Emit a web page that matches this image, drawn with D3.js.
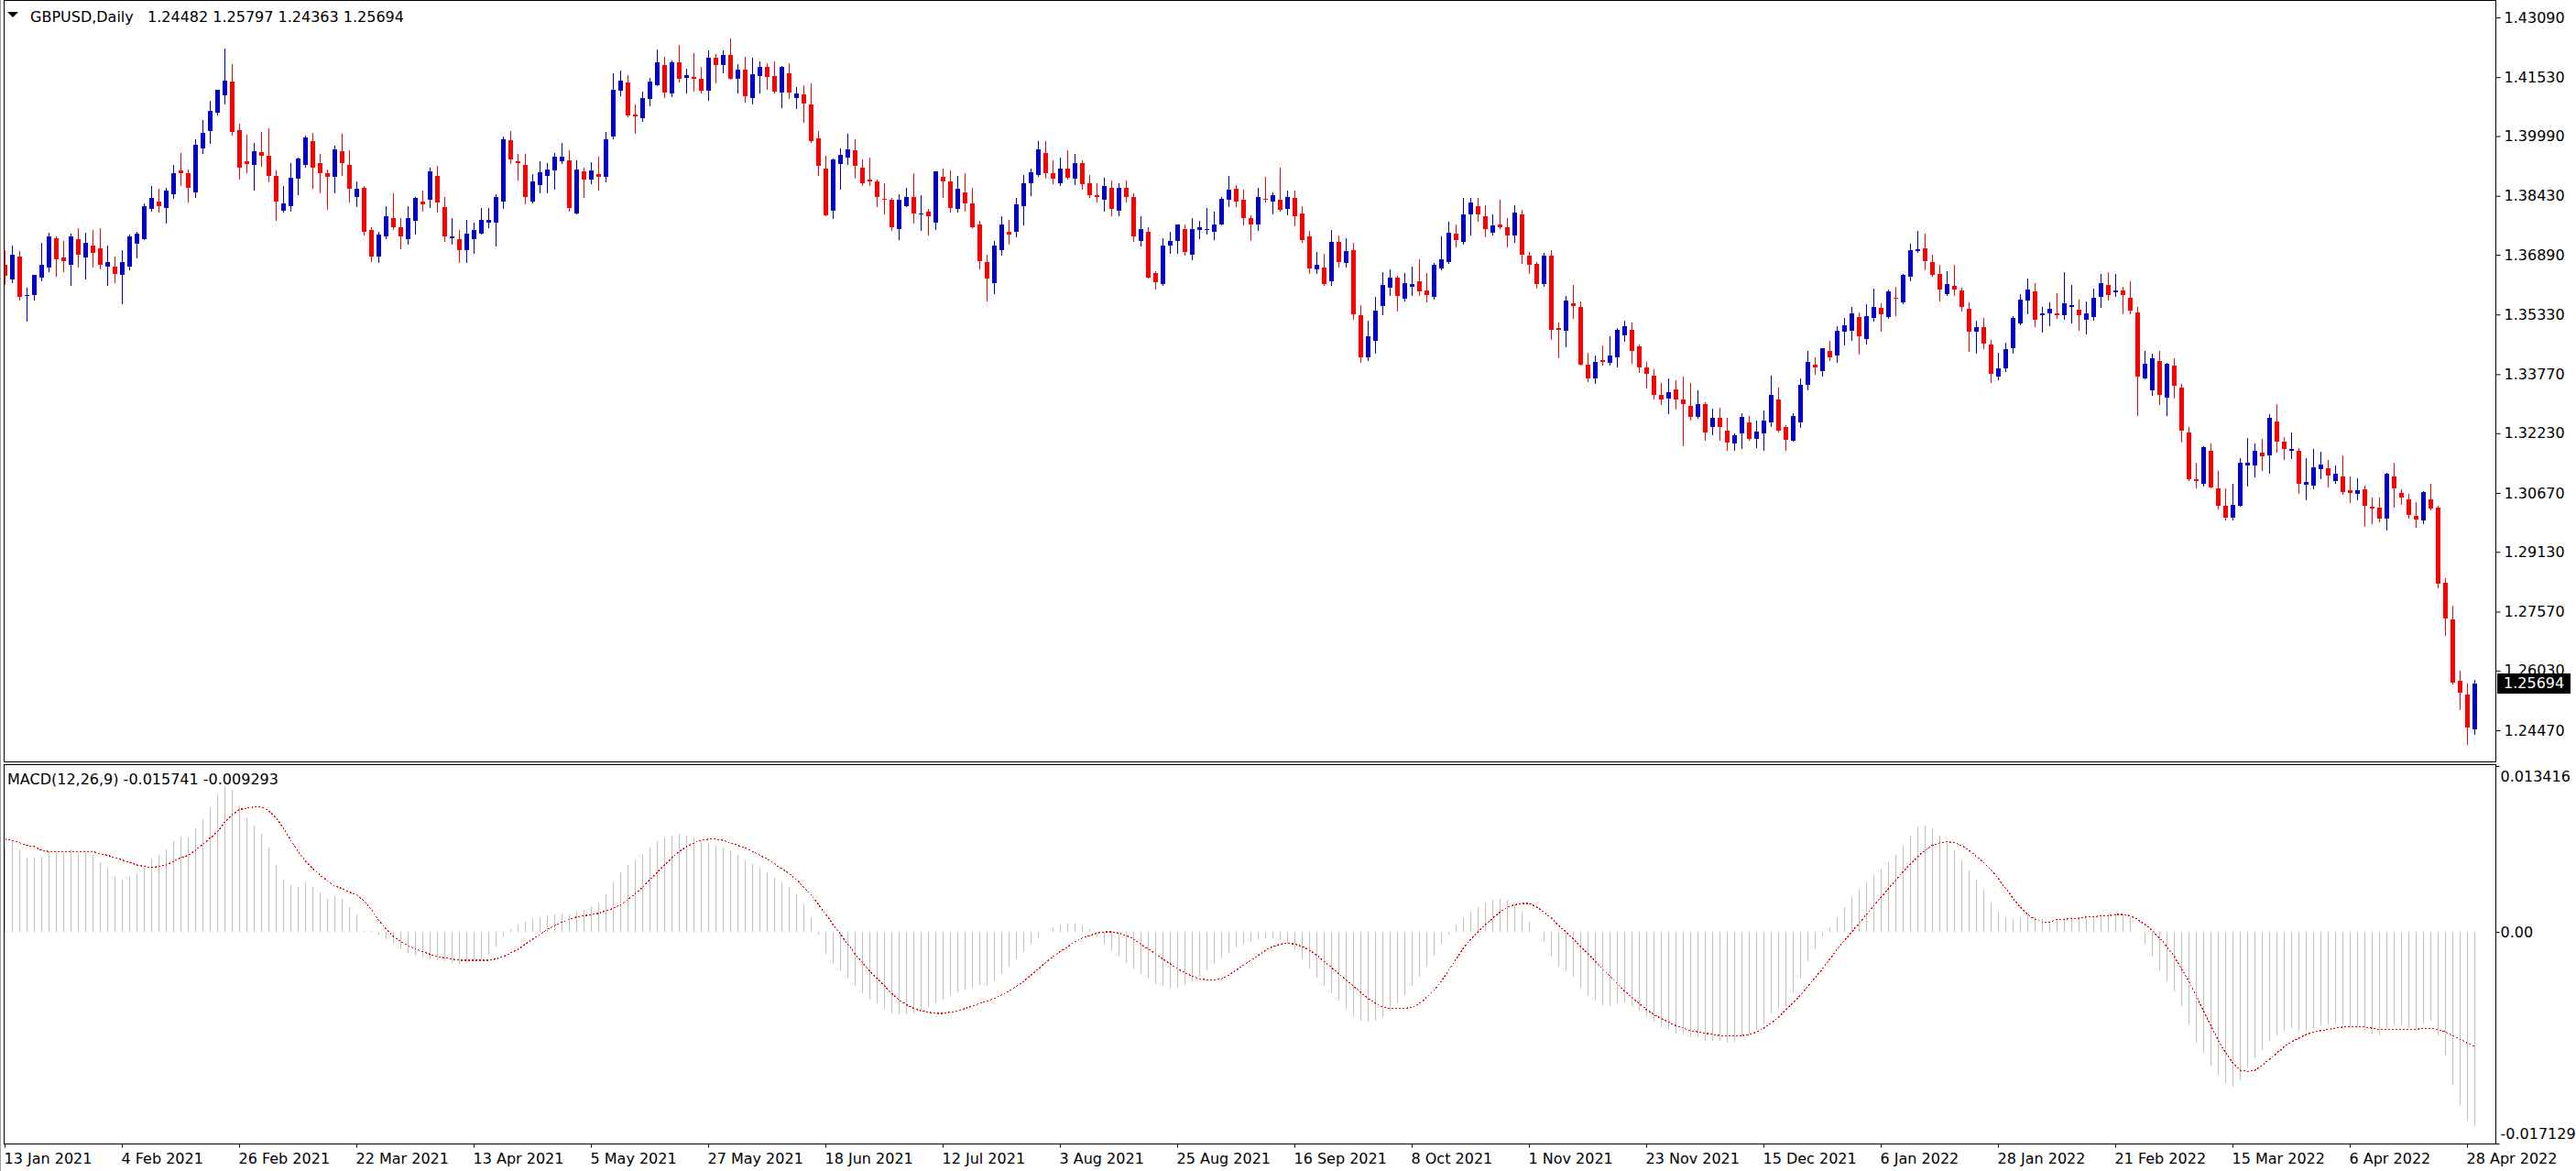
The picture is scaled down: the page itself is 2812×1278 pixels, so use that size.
<!DOCTYPE html>
<html>
<head>
<meta charset="utf-8">
<script src="https://cdn.jsdelivr.net/npm/d3@7"></script>
<style>
body { margin: 0; background: #fff; }
svg text { font-family: "DejaVu Sans", sans-serif; font-size: 16px; fill: #000; }
</style>
</head>
<body>
<svg width="2812" height="1278"></svg>
<script>
// GBPUSD daily, 13 Jan 2021 .. 29 Apr 2022 (one bar per weekday)
const opens = [
1.3662,1.3625,1.3685,1.3582,1.3583,1.3629,1.3655,1.3733,1.3683,1.3662,
1.3731,1.3681,1.3714,1.3705,1.3659,1.3657,1.3637,1.3657,1.3717,1.3731,
1.3808,1.3829,1.3810,1.3846,1.3909,1.3901,1.3851,1.3966,1.4012,1.4060,
1.4105,1.4141,1.4014,1.3933,1.3923,1.3957,1.3947,1.3894,1.3805,1.3815,
1.3887,1.3923,1.3985,1.3928,1.3901,1.3892,1.3959,1.3923,1.3841,1.3863,
1.3753,1.3685,1.3736,1.3786,1.3760,1.3731,1.3777,1.3829,1.3832,1.3894,
1.3813,1.3733,1.3731,1.3700,1.3731,1.3743,1.3774,1.3772,1.3827,1.3988,
1.3933,1.3923,1.3829,1.3870,1.3894,1.3909,1.3933,1.3935,1.3798,1.3906,
1.3885,1.3899,1.3892,1.3997,1.4117,1.4139,1.4055,1.4045,1.4096,1.4132,
1.4185,1.4110,1.4192,1.4151,1.4153,1.4149,1.4117,1.4204,1.4185,1.4211,
1.4149,1.4173,1.4098,1.4156,1.4180,1.4156,1.4113,1.4163,1.4098,1.4108,
1.4081,1.3993,1.3913,1.3805,1.3925,1.3942,1.3961,1.3916,1.3885,1.3880,
1.3834,1.3832,1.3755,1.3817,1.3839,1.3796,1.3801,1.3772,1.3892,1.3880,
1.3808,1.3853,1.3822,1.3767,1.3671,1.3616,1.3702,1.3750,1.3748,1.3817,
1.3877,1.3897,1.3954,1.3901,1.3875,1.3913,1.3887,1.3928,1.3875,1.3844,
1.3832,1.3865,1.3803,1.3863,1.3839,1.3724,1.3750,1.3642,1.3613,1.3714,
1.3726,1.3757,1.3690,1.3753,1.3753,1.3748,1.3769,1.3832,1.3861,1.3832,
1.3784,1.3769,1.3834,1.3829,1.3833,1.3809,1.3838,1.3797,1.3737,1.3650,
1.3655,1.3619,1.3722,1.3667,1.3701,1.3530,1.3420,1.3463,1.3554,1.3602,
1.3629,1.3574,1.3605,1.3619,1.3595,1.3578,1.3653,1.3670,1.3744,1.3722,
1.3794,1.3816,1.3790,1.3746,1.3768,1.3761,1.3739,1.3794,1.3686,1.3665,
1.3612,1.3686,1.3497,1.3490,1.3562,1.3552,1.3401,1.3365,1.3413,1.3406,
1.3420,1.3478,1.3494,1.3449,1.3394,1.3374,1.3324,1.3314,1.3338,1.3310,
1.3295,1.3266,1.3300,1.3238,1.3264,1.3230,1.3197,1.3223,1.3250,1.3209,
1.3223,1.3250,1.3310,1.3238,1.3204,1.3252,1.3350,1.3403,1.3386,1.3437,
1.3427,1.3487,1.3490,1.3526,1.3468,1.3523,1.3550,1.3526,1.3576,1.3564,
1.3631,1.3698,1.3707,1.3669,1.3639,1.3586,1.3607,1.3596,1.3548,1.3487,
1.3500,1.3455,1.3370,1.3393,1.3444,1.3509,1.3570,1.3593,1.3532,1.3535,
1.3536,1.3532,1.3552,1.3545,1.3520,1.3527,1.3578,1.3610,1.3590,1.3596,
1.3577,1.3538,1.3367,1.3334,1.3412,1.3315,1.3400,1.3342,1.3226,1.3103,
1.3091,1.3178,1.3080,1.3034,1.3002,1.3034,1.3139,1.3139,1.3171,1.3164,
1.3254,1.3202,1.3177,1.3178,1.3088,1.3086,1.3129,1.3132,1.3098,1.3109,
1.3073,1.3064,1.3076,1.3030,1.3028,1.3000,1.3109,1.3066,1.3051,1.3007,
1.2995,1.3051,1.3028,1.2832,1.2736,1.2576,1.2540,1.24482];

const highs = [
1.3701,1.3712,1.3699,1.3603,1.3637,1.3721,1.3747,1.3737,1.3725,1.3745,
1.3759,1.3747,1.3753,1.3759,1.3712,1.3685,1.3700,1.3741,1.3750,1.3822,
1.3868,1.3861,1.3865,1.3923,1.3954,1.3911,1.3990,1.4041,1.4091,1.4120,
1.4228,1.4187,1.4031,1.4002,1.3981,1.4009,1.4019,1.3909,1.3868,1.3928,
1.3942,1.4000,1.4007,1.3952,1.3911,1.3973,1.4005,1.3961,1.3880,1.3868,
1.3760,1.3748,1.3815,1.3849,1.3786,1.3815,1.3839,1.3856,1.3916,1.3921,
1.3841,1.3784,1.3753,1.3779,1.3772,1.3810,1.3810,1.3846,1.3997,1.4012,
1.3952,1.3952,1.3899,1.3933,1.3928,1.3954,1.3981,1.3961,1.3935,1.3916,
1.3930,1.3945,1.4009,1.4163,1.4170,1.4158,1.4081,1.4115,1.4151,1.4225,
1.4206,1.4197,1.4237,1.4175,1.4216,1.4180,1.4223,1.4213,1.4223,1.4254,
1.4187,1.4206,1.4204,1.4194,1.4189,1.4194,1.4182,1.4189,1.4127,1.4132,
1.4137,1.4012,1.3947,1.3940,1.3966,1.4005,1.3990,1.3937,1.3942,1.3885,
1.3875,1.3837,1.3846,1.3865,1.3901,1.3844,1.3808,1.3906,1.3913,1.3909,
1.3894,1.3901,1.3865,1.3777,1.3690,1.3724,1.3789,1.3781,1.3837,1.3897,
1.3913,1.3985,1.3985,1.3935,1.3942,1.3961,1.3952,1.3935,1.3897,1.3875,
1.3889,1.3882,1.3877,1.3882,1.3849,1.3789,1.3760,1.3647,1.3733,1.3750,
1.3769,1.3769,1.3784,1.3777,1.3810,1.3801,1.3841,1.3894,1.3870,1.3858,
1.3793,1.3865,1.3892,1.3853,1.3916,1.3857,1.3857,1.3816,1.3751,1.3696,
1.3691,1.3754,1.3739,1.3732,1.3720,1.3557,1.3518,1.3578,1.3643,1.3650,
1.3634,1.3641,1.3658,1.3677,1.3641,1.3667,1.3737,1.3775,1.3768,1.3838,
1.3838,1.3838,1.3818,1.3794,1.3833,1.3785,1.3818,1.3806,1.3696,1.3670,
1.3694,1.3701,1.3511,1.3581,1.3610,1.3566,1.3434,1.3427,1.3451,1.3475,
1.3497,1.3516,1.3511,1.3454,1.3410,1.3391,1.3355,1.3367,1.3362,1.3372,
1.3353,1.3334,1.3305,1.3286,1.3290,1.3262,1.3223,1.3276,1.3269,1.3257,
1.3283,1.3374,1.3341,1.3245,1.3274,1.3365,1.3439,1.3420,1.3446,1.3463,
1.3502,1.3523,1.3552,1.3538,1.3559,1.3600,1.3562,1.3598,1.3605,1.3638,
1.3718,1.3751,1.3743,1.3689,1.3662,1.3647,1.3662,1.3603,1.3564,1.3518,
1.3524,1.3467,1.3433,1.3460,1.3529,1.3587,1.3627,1.3614,1.3552,1.3564,
1.3588,1.3643,1.3610,1.3571,1.3568,1.3600,1.3639,1.3643,1.3639,1.3605,
1.3619,1.3552,1.3438,1.3431,1.3438,1.3407,1.3418,1.3351,1.3240,1.3145,
1.3190,1.3195,1.3125,1.3080,1.3090,1.3157,1.3211,1.3197,1.3209,1.3273,
1.3299,1.3214,1.3226,1.3184,1.3159,1.3182,1.3175,1.3152,1.3138,1.3166,
1.3109,1.3106,1.3087,1.3056,1.3054,1.3119,1.3147,1.3076,1.3064,1.3042,
1.3071,1.3090,1.3034,1.2844,1.2772,1.2602,1.2569,1.25797];

const lows = [
1.3613,1.3617,1.3571,1.3518,1.3571,1.3621,1.3645,1.3635,1.3647,1.3609,
1.3659,1.3628,1.3657,1.3654,1.3611,1.3618,1.3563,1.3652,1.3681,1.3729,
1.3803,1.3801,1.3774,1.3837,1.3870,1.3829,1.3839,1.3954,1.3981,1.4055,
1.4084,1.4002,1.3887,1.3904,1.3858,1.3921,1.3880,1.3779,1.3801,1.3803,
1.3846,1.3918,1.3863,1.3853,1.3808,1.3851,1.3897,1.3829,1.3817,1.3741,
1.3673,1.3669,1.3733,1.3755,1.3705,1.3717,1.3745,1.3803,1.3813,1.3801,
1.3724,1.3719,1.3669,1.3669,1.3693,1.3743,1.3760,1.3714,1.3810,1.3928,
1.3885,1.3822,1.3825,1.3851,1.3853,1.3861,1.3928,1.3803,1.3798,1.3839,
1.3877,1.3858,1.3880,1.3993,1.4105,1.4050,1.4007,1.4038,1.4079,1.4132,
1.4101,1.4103,1.4141,1.4113,1.4117,1.4113,1.4093,1.4139,1.4165,1.4149,
1.4113,1.4089,1.4084,1.4113,1.4122,1.4113,1.4074,1.4098,1.4072,1.4036,
1.3983,1.3897,1.3791,1.3786,1.3861,1.3925,1.3889,1.3870,1.3870,1.3815,
1.3798,1.3753,1.3729,1.3815,1.3772,1.3753,1.3741,1.3755,1.3839,1.3801,
1.3801,1.3805,1.3760,1.3654,1.3570,1.3589,1.3690,1.3719,1.3736,1.3767,
1.3844,1.3894,1.3889,1.3875,1.3870,1.3887,1.3873,1.3861,1.3841,1.3827,
1.3803,1.3793,1.3791,1.3827,1.3726,1.3714,1.3630,1.3601,1.3609,1.3693,
1.3695,1.3688,1.3678,1.3733,1.3743,1.3731,1.3767,1.3817,1.3817,1.3767,
1.3727,1.3753,1.3827,1.3796,1.3804,1.3794,1.3766,1.3722,1.3641,1.3641,
1.3610,1.3610,1.3658,1.3658,1.3521,1.3410,1.3415,1.3432,1.3533,1.3583,
1.3542,1.3569,1.3583,1.3583,1.3566,1.3574,1.3650,1.3667,1.3710,1.3718,
1.3742,1.3778,1.3737,1.3742,1.3758,1.3710,1.3722,1.3667,1.3641,1.3602,
1.3607,1.3470,1.3422,1.3449,1.3523,1.3401,1.3358,1.3353,1.3401,1.3403,
1.3396,1.3463,1.3406,1.3382,1.3341,1.3314,1.3300,1.3276,1.3286,1.3192,
1.3259,1.3264,1.3206,1.3221,1.3206,1.3180,1.3180,1.3185,1.3206,1.3187,
1.3180,1.3242,1.3228,1.3180,1.3204,1.3238,1.3338,1.3377,1.3374,1.3413,
1.3408,1.3454,1.3466,1.3430,1.3458,1.3518,1.3490,1.3523,1.3530,1.3562,
1.3622,1.3696,1.3650,1.3634,1.3570,1.3583,1.3584,1.3544,1.3438,1.3433,
1.3444,1.3356,1.3363,1.3384,1.3432,1.3508,1.3536,1.3502,1.3489,1.3505,
1.3525,1.3522,1.3512,1.3493,1.3483,1.3520,1.3553,1.3572,1.3581,1.3536,
1.3535,1.3271,1.3365,1.3324,1.3300,1.3270,1.3315,1.3201,1.3100,1.3081,
1.3086,1.3081,1.3025,1.2998,1.2998,1.3033,1.3086,1.3110,1.3126,1.3119,
1.3174,1.3155,1.3157,1.3067,1.3050,1.3078,1.3105,1.3084,1.3092,1.3065,
1.3042,1.3050,1.2980,1.2988,1.2993,1.2972,1.3031,1.3038,1.3002,1.2979,
1.2987,1.3023,1.2821,1.2697,1.2569,1.2501,1.2410,1.24363];

const closes = [
1.3635,1.3688,1.3578,1.3585,1.3637,1.3662,1.3736,1.3678,1.3673,1.3738,
1.3688,1.3721,1.3693,1.3662,1.3669,1.3640,1.3671,1.3736,1.3743,1.3815,
1.3837,1.3815,1.3856,1.3901,1.3901,1.3865,1.3976,1.4007,1.4065,1.4120,
1.4144,1.4009,1.3916,1.3925,1.3959,1.3947,1.3894,1.3829,1.3822,1.3889,
1.3940,1.3995,1.3916,1.3901,1.3892,1.3964,1.3928,1.3861,1.3861,1.3750,
1.3685,1.3741,1.3789,1.3760,1.3738,1.3786,1.3837,1.3820,1.3906,1.3825,
1.3738,1.3736,1.3702,1.3745,1.3753,1.3779,1.3781,1.3839,1.3990,1.3937,
1.3928,1.3839,1.3880,1.3904,1.3911,1.3945,1.3945,1.3810,1.3911,1.3885,
1.3909,1.3892,1.3990,1.4120,1.4144,1.4053,1.4050,1.4098,1.4141,1.4192,
1.4113,1.4192,1.4149,1.4158,1.4149,1.4117,1.4204,1.4185,1.4211,1.4149,
1.4173,1.4103,1.4161,1.4180,1.4153,1.4115,1.4180,1.4113,1.4110,1.4084,
1.3985,1.3921,1.3793,1.3937,1.3949,1.3964,1.3921,1.3875,1.3880,1.3841,
1.3832,1.3762,1.3832,1.3841,1.3796,1.3798,1.3789,1.3906,1.3880,1.3810,
1.3861,1.3822,1.3762,1.3673,1.3628,1.3714,1.3769,1.3741,1.3820,1.3877,
1.3904,1.3964,1.3901,1.3887,1.3913,1.3889,1.3928,1.3873,1.3844,1.3839,
1.3868,1.3808,1.3865,1.3841,1.3736,1.3755,1.3630,1.3618,1.3714,1.3726,
1.3767,1.3697,1.3757,1.3760,1.3757,1.3769,1.3834,1.3858,1.3829,1.3784,
1.3769,1.3841,1.3832,1.3844,1.3806,1.3840,1.3790,1.3727,1.3653,1.3662,
1.3612,1.3722,1.3670,1.3698,1.3533,1.3422,1.3475,1.3542,1.3610,1.3629,
1.3581,1.3614,1.3612,1.3593,1.3583,1.3662,1.3677,1.3746,1.3727,1.3794,
1.3826,1.3794,1.3756,1.3766,1.3761,1.3739,1.3799,1.3689,1.3662,1.3612,
1.3686,1.3494,1.3492,1.3569,1.3554,1.3401,1.3365,1.3408,1.3408,1.3427,
1.3494,1.3502,1.3439,1.3394,1.3377,1.3324,1.3310,1.3331,1.3310,1.3300,
1.3266,1.3300,1.3226,1.3262,1.3240,1.3199,1.3218,1.3266,1.3209,1.3228,
1.3257,1.3322,1.3230,1.3206,1.3269,1.3350,1.3410,1.3394,1.3444,1.3422,
1.3490,1.3504,1.3535,1.3475,1.3528,1.3552,1.3533,1.3593,1.3574,1.3636,
1.3701,1.3703,1.3672,1.3637,1.3597,1.3613,1.3597,1.3553,1.3489,1.3500,
1.3458,1.3377,1.3393,1.3443,1.3524,1.3571,1.3598,1.3520,1.3536,1.3548,
1.3532,1.3562,1.3557,1.3532,1.3537,1.3577,1.3614,1.3585,1.3596,1.3585,
1.3544,1.3371,1.3404,1.3419,1.3322,1.3404,1.3346,1.3229,1.3103,1.3098,
1.3186,1.3081,1.3033,1.3002,1.3036,1.3145,1.3145,1.3178,1.3162,1.3262,
1.3201,1.3182,1.3182,1.3091,1.3095,1.3135,1.3142,1.3113,1.3116,1.3070,
1.3067,1.3073,1.3033,1.3026,1.3000,1.3117,1.3078,1.3055,1.3009,1.2998,
1.3069,1.3026,1.2831,1.2740,1.2572,1.2544,1.2453,1.25694];

const macdMain = [
0.0068,0.0073,0.0066,0.0060,0.0060,0.0061,0.0065,0.0065,0.0064,0.0067,
0.0064,0.0065,0.0062,0.0056,0.0052,0.0045,0.0042,0.0045,0.0047,0.0052,
0.0059,0.0062,0.0067,0.0073,0.0077,0.0076,0.0084,0.0091,0.0101,0.0111,
0.0118,0.0115,0.0102,0.0093,0.0086,0.0079,0.0068,0.0054,0.0042,0.0038,
0.0036,0.0040,0.0036,0.0032,0.0027,0.0029,0.0027,0.0020,0.0014,0.0001,
0.0001,-0.0003,-0.0006,-0.0010,-0.0014,-0.0017,-0.0019,-0.0021,-0.0022,-0.0023,
-0.0024,-0.0025,-0.0026,-0.0025,-0.0024,-0.0022,-0.0019,-0.0012,-0.0004,0.0002,
0.0006,0.0008,0.0010,0.0012,0.0013,0.0014,0.0015,0.0014,0.0016,0.0018,
0.0021,0.0024,0.0030,0.0040,0.0048,0.0054,0.0058,0.0063,0.0068,0.0073,
0.0076,0.0078,0.0079,0.0078,0.0076,0.0073,0.0072,0.0070,0.0068,0.0066,
0.0062,0.0058,0.0055,0.0052,0.0048,0.0044,0.0040,0.0036,0.0030,0.0022,
0.0012,-0.0002,-0.0018,-0.0026,-0.0032,-0.0038,-0.0044,-0.0050,-0.0055,-0.0058,
-0.0062,-0.0066,-0.0067,-0.0067,-0.0066,-0.0064,-0.0061,-0.0058,-0.0055,-0.0052,
-0.0049,-0.0047,-0.0045,-0.0043,-0.0044,-0.0040,-0.0034,-0.0028,-0.0022,-0.0016,
-0.0010,-0.0005,0.0000,0.0004,0.0006,0.0007,0.0007,0.0005,0.0002,-0.0004,
-0.0010,-0.0015,-0.0020,-0.0025,-0.0030,-0.0034,-0.0038,-0.0042,-0.0044,-0.0045,
-0.0045,-0.0043,-0.0040,-0.0036,-0.0031,-0.0026,-0.0021,-0.0017,-0.0013,-0.0010,
-0.0008,-0.0006,-0.0005,-0.0005,-0.0007,-0.0010,-0.0015,-0.0022,-0.0030,-0.0037,
-0.0044,-0.0050,-0.0056,-0.0062,-0.0068,-0.0072,-0.0073,-0.0072,-0.0069,-0.0064,
-0.0058,-0.0051,-0.0044,-0.0036,-0.0028,-0.0019,-0.0010,-0.0002,0.0006,0.0012,
0.0016,0.0020,0.0024,0.0026,0.0027,0.0026,0.0022,0.0016,0.0008,0.0000,
-0.0008,-0.0020,-0.0028,-0.0032,-0.0036,-0.0045,-0.0052,-0.0056,-0.0059,-0.0060,
-0.0058,-0.0057,-0.0060,-0.0064,-0.0068,-0.0073,-0.0077,-0.0079,-0.0082,-0.0083,
-0.0085,-0.0085,-0.0088,-0.0088,-0.0088,-0.0090,-0.0089,-0.0085,-0.0082,-0.0079,
-0.0075,-0.0066,-0.0062,-0.0060,-0.0050,-0.0038,-0.0024,-0.0014,-0.0004,0.0004,
0.0012,0.0020,0.0028,0.0034,0.0040,0.0046,0.0051,0.0057,0.0062,0.0070,
0.0078,0.0085,0.0086,0.0084,0.0078,0.0072,0.0066,0.0058,0.0050,0.0042,
0.0034,0.0024,0.0016,0.0012,0.0010,0.0012,0.0014,0.0012,0.0010,0.0009,
0.0010,0.0011,0.0012,0.0012,0.0011,0.0012,0.0014,0.0015,0.0015,0.0014,
0.0012,0.0000,-0.0010,-0.0020,-0.0032,-0.0040,-0.0048,-0.0060,-0.0075,-0.0090,
-0.0098,-0.0108,-0.0116,-0.0122,-0.0125,-0.0120,-0.0110,-0.0102,-0.0096,-0.0088,
-0.0084,-0.0080,-0.0078,-0.0080,-0.0080,-0.0078,-0.0076,-0.0075,-0.0074,-0.0076,
-0.0078,-0.0078,-0.0080,-0.0082,-0.0084,-0.0078,-0.0076,-0.0076,-0.0078,-0.0080,
-0.0074,-0.0072,-0.0084,-0.0100,-0.0124,-0.0140,-0.0153,-0.015741];

const macdSignal = [
0.0075,0.0074,0.0072,0.0070,0.0069,0.0066,0.0065,0.0065,0.0065,0.0065,
0.0065,0.0065,0.0065,0.0063,0.0062,0.0060,0.0058,0.0056,0.0054,0.0053,
0.0052,0.0053,0.0054,0.0057,0.0060,0.0062,0.0066,0.0071,0.0076,0.0081,
0.0089,0.0095,0.0099,0.0100,0.0101,0.0101,0.0098,0.0092,0.0084,0.0074,
0.0065,0.0057,0.0051,0.0046,0.0041,0.0037,0.0035,0.0032,0.0030,0.0025,
0.0018,0.0009,0.0002,-0.0004,-0.0008,-0.0011,-0.0014,-0.0016,-0.0018,-0.0020,
-0.0021,-0.0022,-0.0023,-0.0023,-0.0023,-0.0023,-0.0023,-0.0022,-0.0020,-0.0017,
-0.0014,-0.0010,-0.0006,-0.0002,0.0002,0.0005,0.0008,0.0010,0.0012,0.0013,
0.0014,0.0015,0.0017,0.0019,0.0022,0.0026,0.0031,0.0036,0.0042,0.0048,
0.0054,0.0060,0.0065,0.0069,0.0072,0.0074,0.0075,0.0075,0.0074,0.0072,
0.0070,0.0068,0.0065,0.0062,0.0059,0.0055,0.0051,0.0047,0.0042,0.0036,
0.0030,0.0022,0.0014,0.0006,-0.0002,-0.0010,-0.0018,-0.0025,-0.0032,-0.0038,
-0.0044,-0.0050,-0.0055,-0.0059,-0.0062,-0.0064,-0.0065,-0.0066,-0.0066,-0.0065,
-0.0064,-0.0062,-0.0060,-0.0058,-0.0056,-0.0054,-0.0051,-0.0048,-0.0044,-0.0040,
-0.0035,-0.0030,-0.0025,-0.0020,-0.0016,-0.0012,-0.0008,-0.0005,-0.0003,-0.0001,
0.0000,0.0000,-0.0001,-0.0003,-0.0006,-0.0010,-0.0014,-0.0018,-0.0022,-0.0026,
-0.0030,-0.0033,-0.0036,-0.0038,-0.0039,-0.0039,-0.0038,-0.0035,-0.0031,-0.0027,
-0.0023,-0.0019,-0.0015,-0.0012,-0.0010,-0.0009,-0.0010,-0.0012,-0.0015,-0.0019,
-0.0024,-0.0029,-0.0034,-0.0039,-0.0044,-0.0049,-0.0054,-0.0058,-0.0061,-0.0062,
-0.0062,-0.0062,-0.0061,-0.0058,-0.0053,-0.0047,-0.0040,-0.0031,-0.0022,-0.0013,
-0.0006,0.0000,0.0006,0.0011,0.0016,0.0020,0.0022,0.0023,0.0023,0.0020,
0.0016,0.0011,0.0005,0.0000,-0.0006,-0.0012,-0.0018,-0.0024,-0.0030,-0.0036,
-0.0042,-0.0048,-0.0053,-0.0058,-0.0063,-0.0067,-0.0070,-0.0073,-0.0076,-0.0078,
-0.0080,-0.0081,-0.0082,-0.0083,-0.0084,-0.0084,-0.0084,-0.0084,-0.0083,-0.0081,
-0.0078,-0.0074,-0.0069,-0.0063,-0.0057,-0.0051,-0.0044,-0.0037,-0.0030,-0.0022,
-0.0014,-0.0007,0.0000,0.0007,0.0014,0.0021,0.0028,0.0035,0.0042,0.0049,
0.0055,0.0061,0.0066,0.0070,0.0072,0.0073,0.0072,0.0070,0.0066,0.0061,
0.0056,0.0050,0.0043,0.0035,0.0027,0.0020,0.0014,0.0010,0.0008,0.0008,
0.0010,0.0010,0.0011,0.0011,0.0012,0.0012,0.0013,0.0013,0.0014,0.0014,
0.0013,0.0010,0.0006,0.0001,-0.0005,-0.0012,-0.0020,-0.0030,-0.0040,-0.0052,
-0.0064,-0.0076,-0.0088,-0.0098,-0.0106,-0.0112,-0.0113,-0.0112,-0.0108,-0.0103,
-0.0098,-0.0093,-0.0089,-0.0086,-0.0083,-0.0081,-0.0080,-0.0079,-0.0078,-0.0077,
-0.0077,-0.0077,-0.0077,-0.0078,-0.0079,-0.0079,-0.0079,-0.0079,-0.0079,-0.0079,
-0.0078,-0.0078,-0.0079,-0.0081,-0.0084,-0.0087,-0.0090,-0.009293];

const priceTicks = [1.43090,1.41530,1.39990,1.38430,1.36890,1.35330,1.33770,
                    1.32230,1.30670,1.29130,1.27570,1.26030,1.24470];
const macdTicks = [0.013416, 0, -0.017129];
const headerName = "GBPUSD,Daily";
const headerOHLC = "1.24482 1.25797 1.24363 1.25694";
const macdLabel = "MACD(12,26,9) -0.015741 -0.009293";
const firstDay = new Date(2021, 0, 13);
const lastDay = new Date(2022, 3, 29);
const dateStep = 16;

const svg = d3.select('svg');
const blue = '#0000cc', red = '#ff0000';
const plotL = 4.5, plotR = 2724.5;

const days = d3.timeDay.range(firstDay, d3.timeDay.offset(lastDay, 1))
    .filter(d => d.getDay() !== 0 && d.getDay() !== 6);

const bars = days.map((d, i) => ({
    i: i, date: d, o: opens[i], h: highs[i], l: lows[i], c: closes[i],
    macd: macdMain[i], sig: macdSignal[i]
}));

const x = d3.scaleBand().domain(d3.range(bars.length)).range([1.5, 1.5 + 8 * bars.length]);
const cx = i => x(i) + 4;
const y = d3.scaleLinear().domain([1.2447, 1.4309]).range([797, 19]);
const ym = d3.scaleLinear().domain([-0.017129, 0.013416]).range([1248, 836]);

const defs = svg.append('defs');
defs.append('clipPath').attr('id', 'clipMain')
    .append('rect').attr('x', 5).attr('y', 1).attr('width', 2719).attr('height', 830);
defs.append('clipPath').attr('id', 'clipMacd')
    .append('rect').attr('x', 5).attr('y', 835).attr('width', 2719).attr('height', 413);

// window frame
svg.append('line').attr('x1', 0.5).attr('x2', 0.5).attr('y1', 0).attr('y2', 1278)
    .style('stroke', '#a0a0a0');
svg.append('rect').attr('x', plotL).attr('y', 0.5).attr('width', plotR - plotL).attr('height', 831)
    .style('fill', 'none').style('stroke', '#000');
svg.append('rect').attr('x', plotL).attr('y', 834.5).attr('width', plotR - plotL).attr('height', 414)
    .style('fill', 'none').style('stroke', '#000');

// candles
const candleLayer = svg.append('g').attr('clip-path', 'url(#clipMain)');
candleLayer.selectAll('.wick')
    .data(bars)
    .enter().append('line')
    .attr('class', 'wick')
    .attr('x1', d => cx(d.i)).attr('x2', d => cx(d.i))
    .attr('y1', d => Math.round(y(d.h))).attr('y2', d => Math.round(y(d.l)) + 1)
    .style('stroke', d => d.c >= d.o ? blue : red)
    .style('stroke-width', 1);

candleLayer.selectAll('.body')
    .data(bars)
    .enter().append('rect')
    .attr('class', 'body')
    .attr('x', d => cx(d.i) - 2.5)
    .attr('y', d => Math.round(y(Math.max(d.o, d.c))))
    .attr('width', 5)
    .attr('height', d => Math.max(1, Math.round(y(Math.min(d.o, d.c))) - Math.round(y(Math.max(d.o, d.c)))))
    .style('fill', d => d.c >= d.o ? blue : red);

// MACD histogram + signal
const macdLayer = svg.append('g').attr('clip-path', 'url(#clipMacd)');
macdLayer.selectAll('.hist')
    .data(bars)
    .enter().append('line')
    .attr('class', 'hist')
    .attr('x1', d => cx(d.i)).attr('x2', d => cx(d.i))
    .attr('y1', Math.round(ym(0)))
    .attr('y2', d => Math.round(ym(d.macd)))
    .style('stroke', '#c0c0c0')
    .style('stroke-width', 1);

macdLayer.append('path')
    .datum(bars)
    .attr('d', d3.line().x(d => cx(d.i)).y(d => ym(d.sig)))
    .style('fill', 'none')
    .style('stroke', red)
    .style('stroke-width', 1.2)
    .style('stroke-dasharray', '2,2')
    .style('shape-rendering', 'crispEdges');

// price axis
const yAxis = d3.axisRight(y).tickValues(priceTicks).tickSize(5).tickPadding(4)
    .tickFormat(d => d.toFixed(5));
const yAxisG = svg.append('g').attr('transform', 'translate(' + plotR + ',0)').call(yAxis);
yAxisG.select('.domain').remove();
yAxisG.selectAll('text').style('font-size', '16px').style('font-family', '"DejaVu Sans", sans-serif');

// current price box
const last = bars[bars.length - 1];
const lastY = y(last.c);
svg.append('rect').attr('x', 2726).attr('y', Math.round(lastY) - 11).attr('width', 80).attr('height', 22)
    .style('fill', '#000');
svg.append('text').attr('x', 2733).attr('y', lastY).attr('dy', '0.35em')
    .style('fill', '#fff').text(last.c.toFixed(5));

// MACD axis
const mAxis = d3.axisRight(ym).tickValues(macdTicks).tickSize(4).tickPadding(1)
    .tickFormat(d => d === 0 ? '0.00' : d.toFixed(6));
const mAxisG = svg.append('g').attr('transform', 'translate(' + plotR + ',0)').call(mAxis);
mAxisG.select('.domain').remove();
mAxisG.selectAll('text').style('font-size', '16px').style('font-family', '"DejaVu Sans", sans-serif')
    .attr('dy', d => d > 0 ? '1.0em' : (d < 0 ? '-0.35em' : '0.32em'));

// time axis
const xAxis = d3.axisBottom(x)
    .tickValues(d3.range(0, bars.length, dateStep))
    .tickSize(4).tickPadding(6)
    .tickFormat(i => d3.timeFormat('%-d %b %Y')(days[i]));
const xAxisG = svg.append('g').attr('transform', 'translate(0,1248.5)').call(xAxis);
xAxisG.select('.domain').remove();
xAxisG.selectAll('text').style('font-size', '16px').style('font-family', '"DejaVu Sans", sans-serif')
    .attr('text-anchor', 'start').attr('x', -1);

// header labels
svg.append('path').attr('d', 'M8,13 L20,13 L14,19 Z').style('fill', '#000');
svg.append('text').attr('x', 33).attr('y', 24).text(headerName);
svg.append('text').attr('x', 161).attr('y', 24).text(headerOHLC);
svg.append('text').attr('x', 8).attr('y', 856).text(macdLabel);
</script>
</body>
</html>
